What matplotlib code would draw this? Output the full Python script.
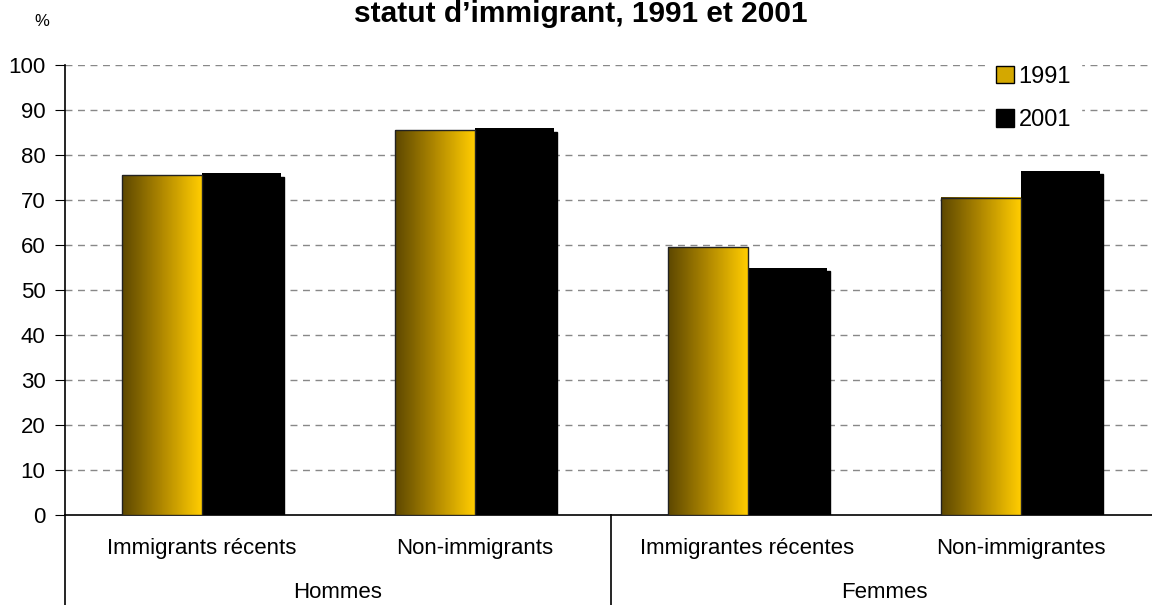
import numpy as np
import matplotlib.pyplot as plt
from matplotlib.colors import LinearSegmentedColormap
from matplotlib.patches import Rectangle

plt.rcParams['font.family'] = ['Liberation Sans', 'DejaVu Sans']

# donnees
categories = ["Immigrants récents", "Non-immigrants",
              "Immigrantes récentes", "Non-immigrantes"]
groups = ["Hommes", "Femmes"]
val_1991 = [75.5, 85.5, 59.5, 70.5]
val_2001 = [76, 86, 55, 76.5]
years = ["1991", "2001"]
title = "statut d\u2019immigrant, 1991 et 2001"

W, H = 1152, 605
fig = plt.figure(figsize=(W / 100, H / 100), dpi=100)
ax = fig.add_axes([65 / W, 1 - 515 / H, (1157 - 65) / W, 450 / H])

x = np.arange(len(categories))
bw = 0.29
gold = LinearSegmentedColormap.from_list("gold", ["#5e4800", "#b08800", "#ffcc00"])
grad = np.linspace(0, 1, 64).reshape(1, -1)

for i, xi in enumerate(x):
    # 2001 : barre noire avec petite ombre
    ax.add_patch(Rectangle((xi + 0.012, 0), bw, val_2001[i] - 0.8,
                           color="black", zorder=2))
    ax.bar(xi, val_2001[i], bw, align="edge", color="black", zorder=3)
    # 1991 : barre en degrade
    ax.imshow(grad, cmap=gold, aspect="auto", zorder=3,
              extent=(xi - bw, xi, 0, val_1991[i]))
    ax.add_patch(Rectangle((xi - bw, 0), bw, val_1991[i], fill=False,
                           edgecolor="#222222", lw=1, zorder=4))

ax.set_xlim(-0.5, 3.5)
ax.set_ylim(0, 100)
ax.set_yticks(np.arange(0, 101, 10))
ax.tick_params(axis="y", labelsize=16, length=7, direction="out", pad=7)
ax.set_xticks([])
for yv in range(10, 101, 10):
    ax.axhline(yv, color="#888888", lw=1, ls=(0, (5, 4)), zorder=1)
for s in ["top", "right"]:
    ax.spines[s].set_visible(False)
ax.spines["bottom"].set_linewidth(1.2)
ax.spines["left"].set_linewidth(1.2)

# axe categoriel a deux niveaux
for xv in [-0.5, 1.5]:
    ax.plot([xv, xv], [0, -20.5], color="black", lw=1.2, clip_on=False)
for i, c in enumerate(categories):
    ax.text(x[i], -7.5, c, ha="center", va="center", fontsize=16)
for j, g in enumerate(groups):
    ax.text(2 * j + 0.5, -17.3, g, ha="center", va="center", fontsize=16)

fig.text(42 / W, 1 - 21 / H, "%", ha="center", va="center", fontsize=12)
fig.text(581 / W, 1 - 14 / H, title, ha="center", va="center",
         fontsize=21.5, fontweight="bold")

handles = [Rectangle((0, 0), 1, 1, facecolor="#d4a800", edgecolor="black"),
           Rectangle((0, 0), 1, 1, facecolor="black", edgecolor="black")]
leg = ax.legend(handles, years, loc="upper left",
                bbox_to_anchor=(910 / 1092, 1.045), frameon=True,
                fancybox=False, facecolor="white", edgecolor="white",
                framealpha=1, fontsize=17, handlelength=0.75,
                handleheight=0.75, handletextpad=0.2, labelspacing=0.9)
leg.set_zorder(5)

fig.savefig("out.png", dpi=100)
